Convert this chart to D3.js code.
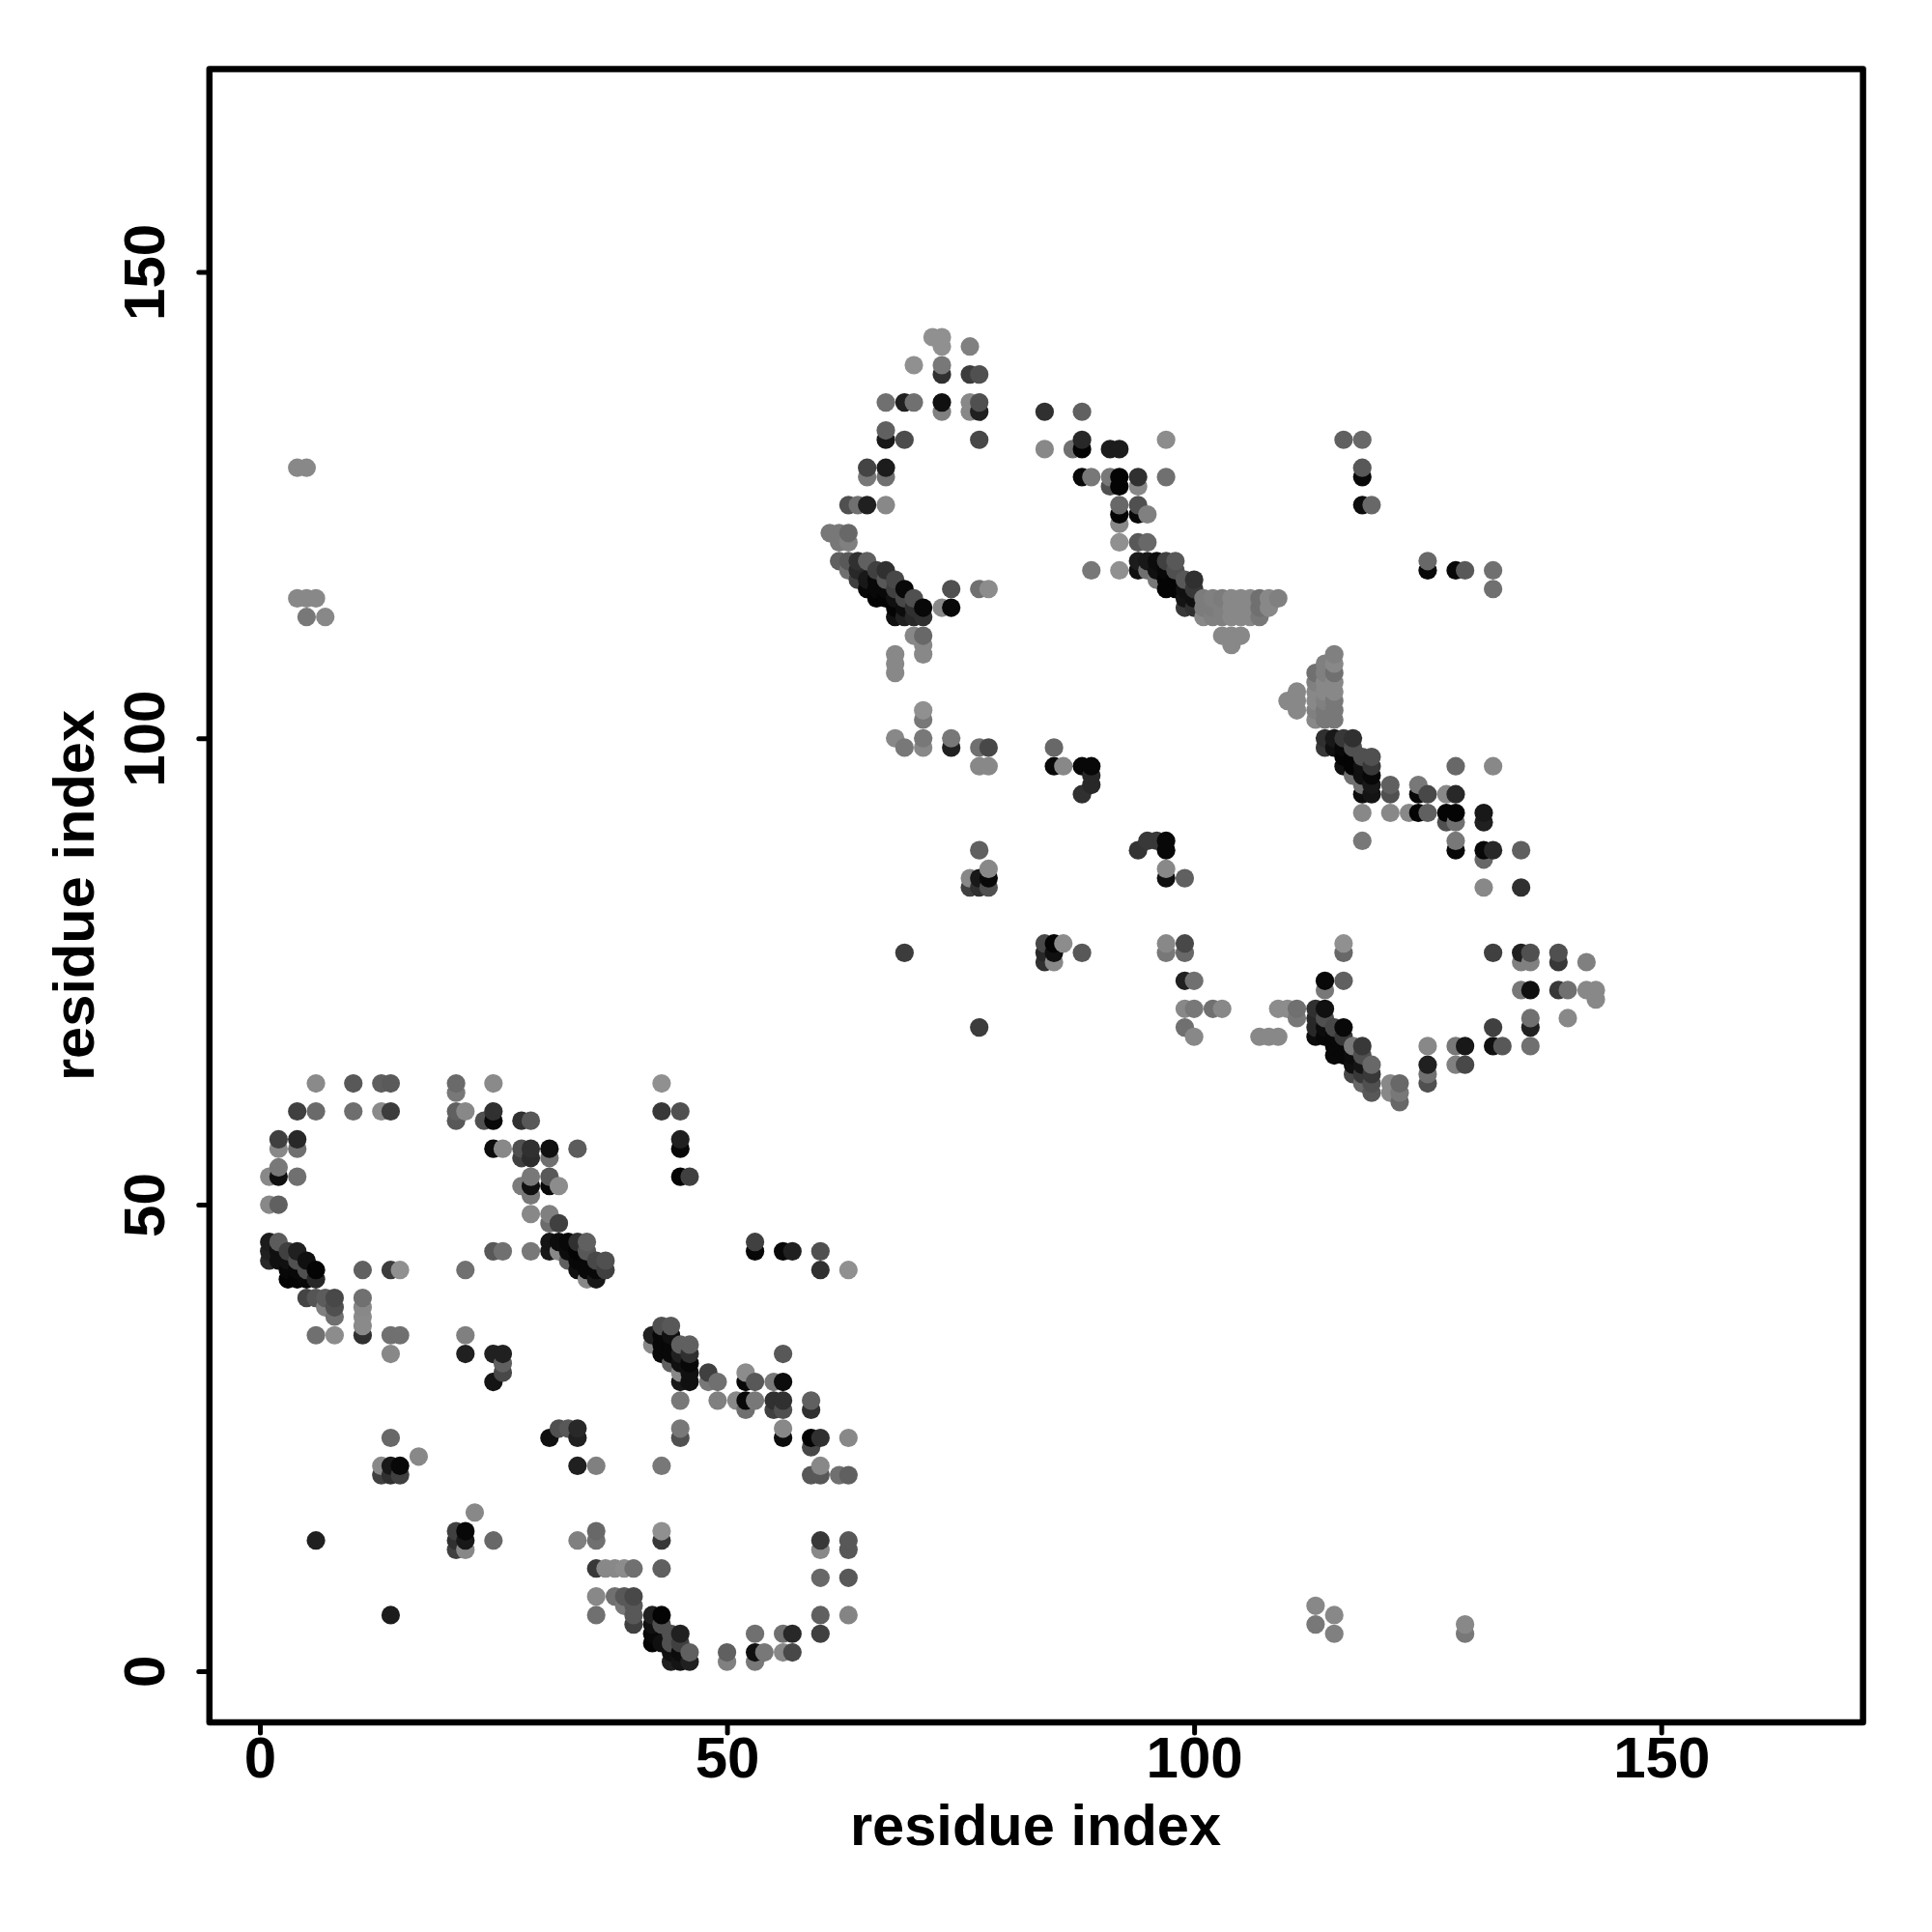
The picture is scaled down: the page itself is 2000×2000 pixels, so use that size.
<!DOCTYPE html>
<html><head><meta charset="utf-8">
<style>html,body{margin:0;padding:0;background:#fff}svg{display:block}</style>
<script src="https://cdn.jsdelivr.net/npm/d3@7/dist/d3.min.js"></script>
</head><body><div id="chart"></div>
<script>
// each contact: [residue i, residue j, grey level]
const helixA1=[[6,63,0x8a],[10,63,0x58],[13,63,0x5e],[14,63,0x5a],[21,63,0x6a],[21,62,0x78],[25,63,0x8a],[4,60,0x40],[6,60,0x6a],[10,60,0x6e],[13,60,0x8a],[14,60,0x3c],[21,60,0x60],[22,60,0x88],[21,59,0x58],[24,59,0x50],[25,59,0x08],[25,60,0x30],[28,59,0x30],[29,59,0x58],[2,57,0x40],[2,56,0x88],[4,57,0x28],[4,56,0x70],[25,56,0x0c],[26,56,0x88],[28,56,0x50],[28,55,0x40],[29,56,0x30],[29,55,0x2c],[31,55,0x70],[31,56,0x10],[34,56,0x5c],[1,53,0x88],[2,53,0x10],[2,54,0x78],[4,53,0x70],[1,50,0x88],[2,50,0x60],[28,52,0x7c],[29,53,0x78],[29,52,0x10],[29,51,0x78],[31,53,0x58],[31,52,0x08],[32,52,0x8c],[29,49,0x88],[31,49,0x80],[31,48,0x6c],[32,48,0x40]];
const helixA2=[[1,46,0x1c],[1,45,0x20],[1,44,0x28],[2,46,0x5c],[2,45,0x10],[2,44,0x10],[3,45,0x40],[3,44,0x10],[3,43,0x08],[3,42,0x04],[4,45,0x20],[4,44,0x50],[4,43,0x08],[4,42,0x04],[5,44,0x10],[5,43,0x50],[5,42,0x08],[6,43,0x04],[6,42,0x28],[5,40,0x44],[6,40,0x55],[7,40,0x5c],[8,40,0x48],[7,39,0x80],[8,39,0x50],[8,38,0x70],[6,36,0x70],[8,36,0x8c],[11,36,0x30],[14,36,0x70],[15,36,0x70],[22,36,0x80],[11,40,0x70],[11,39,0x88],[11,38,0x8a],[11,37,0x8a],[14,34,0x88],[22,34,0x20],[25,34,0x20],[26,34,0x20],[26,33,0x60],[26,32,0x48],[25,31,0x14],[25,45,0x58],[26,45,0x70],[29,45,0x78],[11,43,0x60],[14,43,0x3c],[15,43,0x90],[22,43,0x70]];
const helixA3=[[31,46,0x14],[31,45,0x18],[32,46,0x0c],[32,45,0x88],[33,46,0x08],[33,45,0x0c],[33,44,0x60],[34,46,0x30],[34,45,0x04],[34,44,0x08],[34,43,0x10],[35,46,0x60],[35,45,0x58],[35,44,0x08],[35,43,0x08],[36,44,0x48],[36,43,0x08],[36,42,0x18],[37,44,0x50],[37,43,0x40],[35,42,0x88],[43,63,0x90],[43,60,0x38],[45,60,0x50],[45,57,0x20],[45,56,0x08],[45,53,0x04],[46,53,0x40],[53,46,0x40],[53,45,0x08],[56,45,0x08],[57,45,0x20],[60,45,0x50],[60,43,0x30],[63,43,0x90]];
const helixA4=[[43,37,0x50],[44,37,0x58],[42,36,0x20],[42,35,0x88],[45,35,0x60],[46,35,0x60],[43,36,0x08],[43,35,0x08],[43,34,0x08],[44,36,0x10],[44,35,0x08],[44,34,0x08],[44,33,0x60],[45,34,0x20],[45,33,0x10],[45,32,0x88],[45,31,0x18],[46,34,0x30],[46,33,0x08],[46,32,0x10],[46,31,0x10],[48,32,0x40],[49,31,0x70],[48,31,0x78],[52,32,0x8c],[52,31,0x08],[53,31,0x58],[56,34,0x58],[56,31,0x0c],[55,31,0x78]];
const helixA5=[[45,29,0x78],[49,29,0x80],[51,29,0x88],[52,29,0x08],[52,28,0x70],[53,29,0x78],[55,29,0x30],[55,28,0x40],[56,29,0x30],[56,28,0x50],[59,29,0x60],[59,28,0x30],[34,26,0x28],[34,25,0x20],[45,26,0x78],[45,25,0x50],[56,26,0x88],[56,25,0x0c],[59,25,0x04],[59,24,0x48],[60,25,0x30],[63,25,0x88],[34,22,0x20],[36,22,0x80],[43,22,0x78],[60,22,0x88],[59,21,0x58],[60,21,0x58],[62,21,0x70],[63,21,0x60]];
const helixA6=[[36,15,0x68],[36,14,0x70],[34,14,0x80],[43,15,0x90],[43,14,0x38],[60,14,0x38],[60,13,0x88],[63,14,0x58],[63,13,0x58],[36,11,0x38],[37,11,0x88],[38,11,0x88],[39,11,0x8c],[40,11,0x70],[43,11,0x60],[60,10,0x68],[63,10,0x58],[36,8,0x88],[38,8,0x70],[39,8,0x58],[40,8,0x48],[39,7,0x78],[40,7,0x58],[36,6,0x70],[40,6,0x58],[42,6,0x20],[43,6,0x04],[60,6,0x60],[63,6,0x84],[40,5,0x40],[42,5,0x10],[43,5,0x50],[42,4,0x08],[44,4,0x50],[45,4,0x20],[53,4,0x70],[56,4,0x70],[57,4,0x28],[60,4,0x40],[42,3,0x04],[43,3,0x10],[44,3,0x50],[45,3,0x40],[44,2,0x10],[45,2,0x0c],[46,2,0x60],[50,2,0x60],[53,2,0x10],[54,2,0x78],[56,2,0x88],[57,2,0x48],[44,1,0x20],[45,1,0x14],[46,1,0x20],[50,1,0x80],[53,1,0x78]];
const helixA7=[[14,25,0x68],[17,23,0x88],[13,22,0x88],[13,21,0x40],[14,22,0x18],[14,21,0x30],[15,22,0x08],[15,21,0x40],[6,14,0x20],[23,17,0x88],[21,15,0x40],[21,14,0x30],[21,13,0x40],[22,15,0x08],[22,14,0x18],[22,13,0x88],[25,14,0x68],[14,6,0x1c],[31,25,0x10],[32,26,0x50],[33,26,0x58],[4,129,0x88],[5,129,0x88],[4,115,0x88],[5,115,0x88],[6,115,0x88],[5,113,0x78],[7,113,0x88],[113,7,0x88],[113,5,0x78],[115,6,0x88],[115,4,0x80],[129,5,0x88],[129,4,0x78]];
const helixB1=[[72,143,0x90],[73,143,0x90],[73,142,0x90],[76,142,0x80],[70,140,0x90],[73,140,0x78],[73,139,0x30],[76,139,0x3c],[77,139,0x50],[67,136,0x70],[69,136,0x20],[70,136,0x70],[73,136,0x10],[76,136,0x88],[77,136,0x50],[73,135,0x80],[76,135,0x88],[77,135,0x20],[67,133,0x60],[67,132,0x18],[69,132,0x4c],[77,132,0x48],[65,129,0x44],[67,129,0x1c],[65,128,0x78],[67,128,0x70],[63,125,0x50],[64,125,0x70],[65,125,0x20],[67,125,0x88],[61,122,0x78],[62,122,0x78],[63,122,0x68],[62,121,0x78],[63,121,0x80]];
const helixB2=[[62,119,0x60],[63,119,0x58],[64,119,0x30],[65,119,0x60],[63,118,0x70],[64,118,0x28],[66,118,0x40],[67,118,0x30],[64,117,0x40],[65,117,0x18],[66,117,0x08],[67,117,0x58],[68,117,0x48],[65,116,0x08],[66,116,0x08],[67,116,0x08],[68,116,0x40],[69,116,0x08],[66,115,0x04],[67,115,0x04],[68,115,0x10],[69,115,0x48],[70,115,0x50],[68,114,0x04],[69,114,0x0c],[70,114,0x30],[71,114,0x08],[68,113,0x10],[69,113,0x20],[70,113,0x28],[71,113,0x30],[74,116,0x50],[77,116,0x70],[78,116,0x8c],[73,114,0x88],[74,114,0x08],[70,111,0x88],[71,111,0x68],[71,110,0x88],[71,109,0x88],[68,109,0x88],[68,108,0x88],[68,107,0x88]];
const helixB3=[[84,135,0x30],[88,135,0x60],[88,132,0x28],[84,131,0x88],[87,131,0x70],[88,131,0x04],[91,131,0x1c],[92,131,0x1c],[97,132,0x8c],[88,128,0x08],[89,128,0x78],[91,128,0x78],[92,128,0x04],[94,128,0x30],[97,128,0x70],[91,127,0x50],[92,127,0x04],[94,127,0x88],[92,125,0x68],[94,125,0x50],[92,124,0x04],[94,124,0x08],[95,124,0x80],[92,123,0x88],[92,121,0x90],[94,121,0x58],[95,121,0x68],[94,119,0x1c],[95,119,0x18],[96,119,0x0c],[97,119,0x40],[98,119,0x58],[89,118,0x78],[92,118,0x90],[94,118,0x10],[95,118,0x70],[96,118,0x10],[97,118,0x08],[98,118,0x50],[96,117,0x78],[97,117,0x04],[98,117,0x04],[99,117,0x58],[100,117,0x30],[97,116,0x04],[98,116,0x04],[99,116,0x10],[100,116,0x38],[99,115,0x14],[100,115,0x10],[99,114,0x38],[100,114,0x30]];
const turnB=[[101,115,0x7c],[102,115,0x80],[103,115,0x7c],[104,115,0x88],[105,115,0x88],[106,115,0x88],[107,115,0x70],[108,115,0x88],[109,115,0x80],[101,114,0x7c],[102,114,0x7c],[103,114,0x80],[104,114,0x88],[105,114,0x88],[106,114,0x88],[107,114,0x70],[108,114,0x88],[101,113,0x88],[102,113,0x80],[103,113,0x80],[104,113,0x88],[105,113,0x88],[106,113,0x88],[107,113,0x78],[103,111,0x88],[104,111,0x88],[105,111,0x88],[104,110,0x88],[115,109,0x80],[114,108,0x80],[115,108,0x88],[113,107,0x70],[114,107,0x80],[115,107,0x70],[113,106,0x80],[114,106,0x88],[115,106,0x88],[113,105,0x88],[114,105,0x88],[115,105,0x88],[113,104,0x88],[114,104,0x80],[115,104,0x78],[113,103,0x80],[114,103,0x78],[115,103,0x78],[113,102,0x88],[114,102,0x78],[115,102,0x78],[111,105,0x88],[110,104,0x88],[111,104,0x88],[111,103,0x88]];
const helixB4=[[114,100,0x30],[115,100,0x18],[116,100,0x38],[117,100,0x30],[114,99,0x38],[115,99,0x10],[116,99,0x08],[117,99,0x50],[116,98,0x04],[117,98,0x04],[118,98,0x50],[119,98,0x50],[116,97,0x10],[117,97,0x04],[118,97,0x10],[119,97,0x38],[117,96,0x70],[118,96,0x10],[119,96,0x08],[118,95,0x70],[119,95,0x18],[118,94,0x0c],[119,94,0x14],[121,95,0x60],[121,94,0x50],[124,95,0x78],[124,94,0x08],[125,94,0x48],[127,94,0x88],[128,94,0x28],[128,97,0x68],[132,97,0x88],[118,92,0x88],[121,92,0x88],[123,92,0x88],[124,92,0x04],[125,92,0x60],[127,92,0x04],[128,92,0x04],[131,92,0x18],[127,91,0x50],[128,91,0x70],[131,91,0x20],[118,89,0x78],[128,89,0x78],[128,88,0x08],[131,88,0x08],[132,88,0x28],[135,88,0x60],[131,87,0x68],[131,84,0x88],[135,84,0x30]];
const helixB5=[[71,103,0x90],[71,102,0x78],[68,100,0x88],[71,100,0x78],[69,99,0x78],[71,99,0x88],[74,100,0x78],[74,99,0x20],[77,99,0x70],[78,99,0x48],[77,97,0x88],[78,97,0x88],[85,99,0x68],[85,97,0x08],[86,97,0x88],[88,97,0x08],[89,97,0x08],[89,96,0x28],[89,95,0x28],[88,94,0x30],[77,88,0x60],[78,86,0x88],[78,85,0x08],[78,84,0x50],[77,85,0x18],[77,84,0x30],[76,85,0x88],[76,84,0x40],[94,88,0x34],[95,89,0x38],[96,89,0x38],[97,89,0x08],[97,88,0x08],[97,86,0x88],[97,85,0x10],[99,85,0x60]];
const helixB6=[[69,77,0x3c],[77,69,0x3c],[84,78,0x48],[84,77,0x28],[84,76,0x30],[85,78,0x04],[85,77,0x10],[85,76,0x88],[86,78,0x8c],[88,77,0x58],[97,78,0x88],[97,77,0x78],[99,78,0x48],[99,77,0x68],[99,74,0x20],[100,74,0x70],[99,71,0x88],[100,71,0x78],[102,71,0x70],[103,71,0x88],[99,69,0x70],[100,68,0x88]];
const helixB7=[[109,71,0x8c],[110,71,0x8c],[111,71,0x70],[107,68,0x88],[108,68,0x88],[109,68,0x88],[116,78,0x90],[116,77,0x68],[114,74,0x08],[114,73,0x78],[116,74,0x60],[111,70,0x78],[113,71,0x30],[114,71,0x10],[113,70,0x28],[114,70,0x50],[113,69,0x28],[114,69,0x0c],[115,69,0x48],[116,69,0x08],[113,68,0x0c],[114,68,0x08],[115,68,0x08],[116,68,0x38],[115,67,0x08],[116,67,0x08],[117,67,0x78],[118,67,0x38],[115,66,0x08],[116,66,0x08],[117,66,0x0c],[118,66,0x50],[117,65,0x10],[118,65,0x14],[119,65,0x68],[117,64,0x48],[118,64,0x38],[119,64,0x38],[118,63,0x68],[119,63,0x50],[119,62,0x58],[121,63,0x88],[122,63,0x68],[121,62,0x88],[122,62,0x78],[122,61,0x68]];
const helixB8=[[125,67,0x88],[125,65,0x20],[125,64,0x70],[125,63,0x50],[128,67,0x78],[129,67,0x18],[128,65,0x80],[129,65,0x48],[132,69,0x40],[132,67,0x10],[133,67,0x58],[136,70,0x70],[136,69,0x20],[136,67,0x70],[132,77,0x40],[135,77,0x20],[136,77,0x50],[135,76,0x80],[136,76,0x80],[139,77,0x50],[139,76,0x38],[142,76,0x80],[135,73,0x78],[136,73,0x10],[139,73,0x38],[140,73,0x70],[142,73,0x88],[143,73,0x88],[143,72,0x88],[140,70,0x88],[116,132,0x60],[118,132,0x68],[118,129,0x58],[118,128,0x08],[118,125,0x0c],[119,125,0x68],[125,119,0x68],[125,118,0x08],[128,118,0x08],[129,118,0x58],[132,118,0x70],[132,116,0x70]];

const tickValues=[0,50,100,150];
const axisTitle="residue index";

const contacts=[...helixA1,...helixA2,...helixA3,...helixA4,...helixA5,...helixA6,...helixA7,
  ...helixB1,...helixB2,...helixB3,...turnB,...helixB4,...helixB5,...helixB6,...helixB7,...helixB8]
  .sort((a,b)=>d3.ascending(a[0],b[0])||d3.ascending(a[1],b[1]));

const L=216.8,R=1928.6,T=71.4,B=1783;
const font='"Liberation Sans",Arial,sans-serif';
const x=d3.scaleLinear().domain([-5.4,171.6]).range([L,R]);
const y=d3.scaleLinear().domain([-5.5,171.75]).range([B,T]);

const svg=d3.select("#chart").append("svg").attr("width",2000).attr("height",2000)
  .style("background","#fff");

svg.append("g").selectAll("circle").data(contacts).join("circle")
  .attr("cx",d=>x(d[0])).attr("cy",d=>y(d[1])).attr("r",9.6)
  .attr("fill",d=>d3.rgb(d[2],d[2],d[2]));

svg.append("rect").attr("x",L).attr("y",T).attr("width",R-L).attr("height",B-T)
  .attr("fill","none").attr("stroke","#000").attr("stroke-width",6.5).attr("stroke-linejoin","round");

const gx=svg.append("g").attr("transform",`translate(0,${B})`)
  .call(d3.axisBottom(x).tickValues(tickValues).tickSize(11).tickPadding(0));
const gy=svg.append("g").attr("transform",`translate(${L},0)`)
  .call(d3.axisLeft(y).tickValues(tickValues).tickSize(11).tickPadding(0));
[gx,gy].forEach(g=>{
  g.select(".domain").remove();
  g.selectAll(".tick line").attr("stroke","#000").attr("stroke-width",5).attr("stroke-linecap","round");
  g.selectAll("text").attr("fill","#000").style("font",`bold 60px ${font}`);
});
gx.selectAll("text").attr("dy",null).attr("y",1840-B).attr("text-anchor","middle");
gy.selectAll("text").attr("dy",null).attr("x",null).attr("y",null)
  .attr("transform",`translate(${170-L},0) rotate(-90)`).attr("text-anchor","middle");

svg.append("text").attr("x",1072).attr("y",1910).attr("text-anchor","middle")
  .style("font",`bold 59.6px ${font}`).text(axisTitle);
svg.append("text").attr("transform",`translate(97,927) rotate(-90)`).attr("text-anchor","middle")
  .style("font",`bold 59.6px ${font}`).text(axisTitle);
</script></body></html>
